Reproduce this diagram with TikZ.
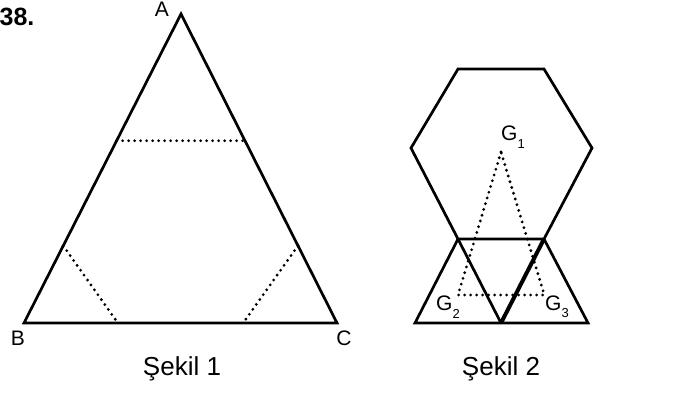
\documentclass[tikz,border=0pt]{standalone}
\usepackage{fontspec}
\setmainfont{Liberation Sans}
\usepackage{tikz}
\usetikzlibrary{positioning}
\usetikzlibrary{calc}
\usetikzlibrary{math}

\newcommand{\Gsub}[1]{G\raisebox{-0.35em}{\fontsize{13}{13}\selectfont #1}}

\tikzset{
  edge/.style={line width=2.7pt, line join=miter},
  boldedge/.style={line width=4pt},
  dots/.style={line width=3.1pt, line cap=round, dash pattern=on 0pt off 6pt},
  vertexlabel/.style={inner sep=0pt, font=\fontsize{21}{21}\selectfont},
  caption/.style={inner sep=0pt, font=\fontsize{26}{26}\selectfont},
  glabel/.style={inner sep=0pt, font=\fontsize{21}{21}\selectfont}
}

\begin{document}
\begin{tikzpicture}[x=1pt,y=-1pt]

  \useasboundingbox (0,0) rectangle (684,392);

  \tikzmath{
    \topcut  = 0.41; % height of the upper cut, from A
    \sidecut = 0.25; % lower cuts on the sides, from B and C
    \basecut = 0.30; % lower cuts on the base, from B and C
  }

  % number of the question
  \node[inner sep=0pt, font=\fontsize{25}{25}\selectfont\bfseries] (num) at (17,17) {38.};

  % Sekil 1: the triangle
  \coordinate (A) at (181,14);
  \coordinate (B) at (24,323);
  \coordinate (C) at (337,323);
  \draw[edge] (A) -- (B) -- (C) -- cycle;

  \node[vertexlabel] (lA) at (162,9) {A};
  \node[vertexlabel] (lB) at (18,338) {B};
  \node[vertexlabel] (lC) at (344,338) {C};

  % cuts
  \coordinate (AB1) at ($(A)!\topcut!(B)$);
  \coordinate (AC1) at ($(A)!\topcut!(C)$);
  \coordinate (AB2) at ($(B)!\sidecut!(A)$);
  \coordinate (BC1) at ($(B)!\basecut!(C)$);
  \coordinate (AC2) at ($(C)!\sidecut!(A)$);
  \coordinate (BC2) at ($(C)!\basecut!(B)$);
  \draw[dots] (AB1) -- (AC1);
  \draw[dots] (AB2) -- (BC1);
  \draw[dots] (AC2) -- (BC2);

  \node[caption] (cap1) at (182,369) {Şekil 1};

  % Sekil 2: the hexagon
  \coordinate (H1) at (458,69);
  \coordinate (H2) at (544,69);
  \coordinate (H3) at (592,148);
  \coordinate (H4) at (544,239);
  \coordinate (H5) at (458,239);
  \coordinate (H6) at (411,148);
  \draw[edge] (H1) -- (H2) -- (H3) -- (H4) -- (H5) -- (H6) -- cycle;

  % three triangles below it
  \coordinate (L) at (415,323);
  \coordinate (M) at (501,323);
  \coordinate (R) at (588,323);
  \draw[edge] (H5) -- (L) -- (R) -- (H4);
  \draw[edge] (H5) -- (M);
  \draw[boldedge] (M) -- (H4);

  % centres of gravity
  \coordinate (G1) at (501,152);
  \coordinate (G2) at ($1/3*(L)+1/3*(H5)+1/3*(M)$);
  \coordinate (G3) at ($1/3*(M)+1/3*(H4)+1/3*(R)$);
  \draw[dots] (G1) -- (G2) -- (G3) -- cycle;

  \node[glabel] (lG1) at (513,137) {\Gsub{1}};
  \node[glabel] (lG2) at (448,307) {\Gsub{2}};
  \node[glabel] (lG3) at (557,307) {\Gsub{3}};

  \node[caption] (cap2) at (501,369) {Şekil 2};

\end{tikzpicture}
\end{document}
